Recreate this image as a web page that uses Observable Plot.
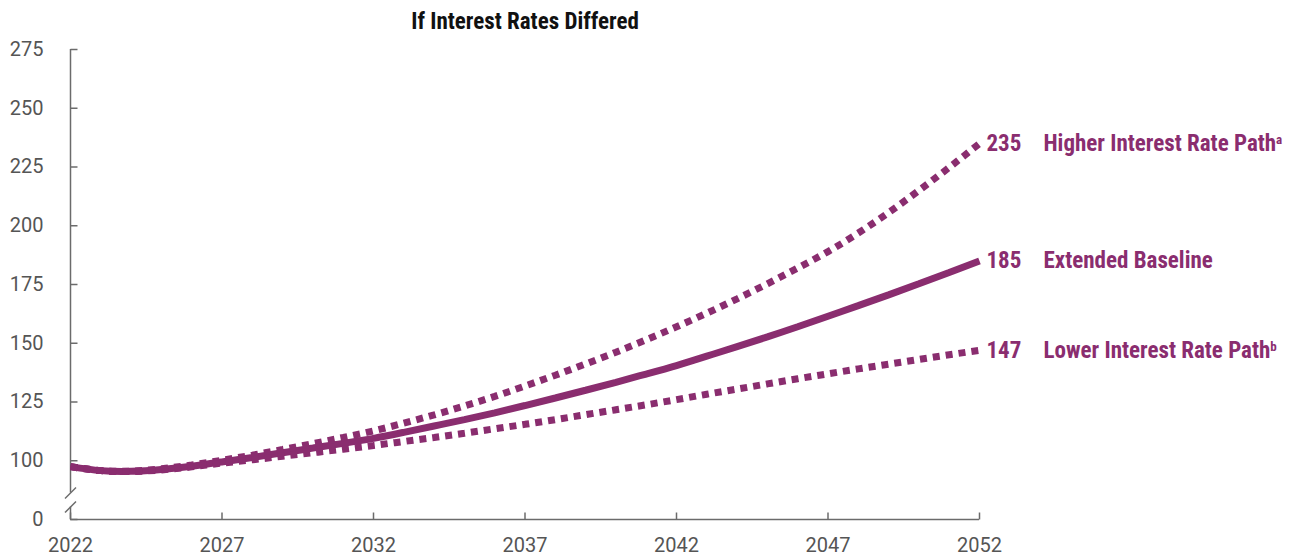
<!DOCTYPE html>
<html>
<head>
<meta charset="utf-8">
<script src="https://cdn.jsdelivr.net/npm/d3@7"></script>
<script src="https://cdn.jsdelivr.net/npm/@observablehq/plot@0.6"></script>
<style>
  html, body { margin: 0; padding: 0; background: #fff; }
  #chart { width: 1296px; height: 557px; }
</style>
</head>
<body>
<div id="chart"></div>
<script>
// ---- data ----
const years = [2022,2023,2024,2025,2026,2027,2028,2029,2030,2031,2032,2033,2034,2035,2036,2037,2038,2039,2040,2041,2042,2043,2044,2045,2046,2047,2048,2049,2050,2051,2052];
const baseline = [97.5,95.8,95.5,96.3,97.7,99.5,101.4,103.4,105.4,107.4,109.5,112.1,114.8,117.5,120.4,123.5,126.7,130.0,133.4,136.9,140.5,144.5,148.6,152.7,157.0,161.5,166.0,170.6,175.3,180.1,185.0];
const higher = [97.5,95.8,95.6,96.6,98.2,100.2,102.4,104.8,107.3,109.9,112.7,116.0,119.5,123.3,127.4,131.8,136.4,141.2,146.2,151.5,157.0,162.8,168.9,175.3,182.0,189.0,196.9,205.6,215.0,224.8,235.0];
const lower = [97.5,95.8,95.4,96.1,97.4,99.0,100.4,101.9,103.4,104.9,106.5,108.2,109.9,111.7,113.6,115.5,117.5,119.6,121.7,123.8,126.0,128.3,130.5,132.7,134.9,137.0,139.1,141.1,143.1,145.1,147.0];

const seriesNames = ["Higher Interest Rate Path", "Extended Baseline", "Lower Interest Rate Path"];
const seriesSup = ["a", "", "b"];
const endLabels = [235, 185, 147];

const xTicks = [2022, 2027, 2032, 2037, 2042, 2047, 2052];
const yTicks = [75, 100, 125, 150, 175, 200, 225, 250, 275]; // 75 is drawn as "0" (broken axis)
const yTickLabels = ["0", "100", "125", "150", "175", "200", "225", "250", "275"];
const axisBreaks = [86.3, 80.3];
const title = "If Interest Rates Differed";

// ---- build tables ----
const rows = years.map((yr, i) => ({year: yr, baseline: baseline[i], higher: higher[i], lower: lower[i]}));
const labelRows = seriesNames.map((n, i) => ({name: n, sup: seriesSup[i], value: endLabels[i]}));
const axisSegments = [{y1: axisBreaks[0], y2: yTicks[yTicks.length - 1]}, {y1: yTicks[0], y2: axisBreaks[1]}];

const purple = "#8a2d6f";
const axisGray = "#6b6b6b";
const narrow = "'Liberation Sans Narrow', 'Roboto Condensed', 'DejaVu Sans Condensed', sans-serif";

const rightTick = {draw(ctx) { ctx.moveTo(0, 0); ctx.lineTo(7, 0); }};
const upTick = {draw(ctx) { ctx.moveTo(0, 0); ctx.lineTo(0, -7); }};
const slash = {draw(ctx) { ctx.moveTo(-5.5, 5.5); ctx.lineTo(5.5, -5.5); }};

const lineOpts = {x: "year", stroke: purple, strokeWidth: 7, strokeLinecap: "butt", strokeLinejoin: "miter", curve: "natural"};

const chart = Plot.plot({
  width: 1296,
  height: 557,
  marginLeft: 70,
  marginRight: 317,
  marginTop: 49,
  marginBottom: 38,
  style: {fontFamily: "Roboto, sans-serif", fontSize: "20px", color: "#555", background: "#fff", overflow: "visible"},
  x: {domain: [2022, 2052], ticks: xTicks, tickSize: 0, tickPadding: 18, tickFormat: d => String(d), label: null},
  y: {domain: [75, 275], ticks: yTicks, tickSize: 0, tickPadding: 27, tickFormat: d => yTickLabels[yTicks.indexOf(d)], label: null},
  marks: [
    // axis lines (broken y axis)
    Plot.ruleX(axisSegments, {x: () => years[0], y1: "y1", y2: "y2", stroke: axisGray, strokeWidth: 1.5}),
    Plot.ruleY([yTicks[0]], {x1: xTicks[0], x2: xTicks[xTicks.length - 1], y: d => d, stroke: axisGray, strokeWidth: 1.5}),
    Plot.dot(yTicks, {x: () => years[0], y: d => d, symbol: rightTick, stroke: axisGray, strokeWidth: 1.5, fill: "none"}),
    Plot.dot(xTicks, {x: d => d, y: () => yTicks[0], symbol: upTick, stroke: axisGray, strokeWidth: 1.5, fill: "none"}),
    Plot.dot(axisBreaks, {x: () => years[0], y: d => d, symbol: slash, stroke: axisGray, strokeWidth: 1.5, fill: "none"}),
    // series
    Plot.line(rows, {...lineOpts, y: "baseline"}),
    Plot.line(rows, {...lineOpts, y: "higher", strokeDasharray: "7,6"}),
    Plot.line(rows, {...lineOpts, y: "lower", strokeDasharray: "7,6"}),
    // end labels
    Plot.text(labelRows, {x: () => years[years.length - 1], y: "value", text: d => String(d.value), dx: 7, textAnchor: "start", fontWeight: "bold", fontSize: 23, fontFamily: narrow, fill: purple}),
    Plot.text(labelRows, {x: () => years[years.length - 1], y: "value", text: "name", dx: 64, textAnchor: "start", fontWeight: "bold", fontSize: 23, fontFamily: narrow, fill: purple}),
    // title
    Plot.text([title], {frameAnchor: "top", lineAnchor: "middle", dy: -28, text: d => d, fontWeight: "bold", fontSize: 23, fontFamily: narrow, fill: "#111"})
  ]
});

// superscripts on series names
chart.querySelectorAll("text").forEach(t => {
  const i = seriesNames.indexOf(t.textContent);
  if (i >= 0 && seriesSup[i]) {
    const ts = document.createElementNS("http://www.w3.org/2000/svg", "tspan");
    ts.setAttribute("dy", "-0.55em");
    ts.setAttribute("font-size", "13");
    ts.textContent = seriesSup[i];
    t.appendChild(ts);
  }
});

document.getElementById("chart").appendChild(chart);
</script>
</body>
</html>
